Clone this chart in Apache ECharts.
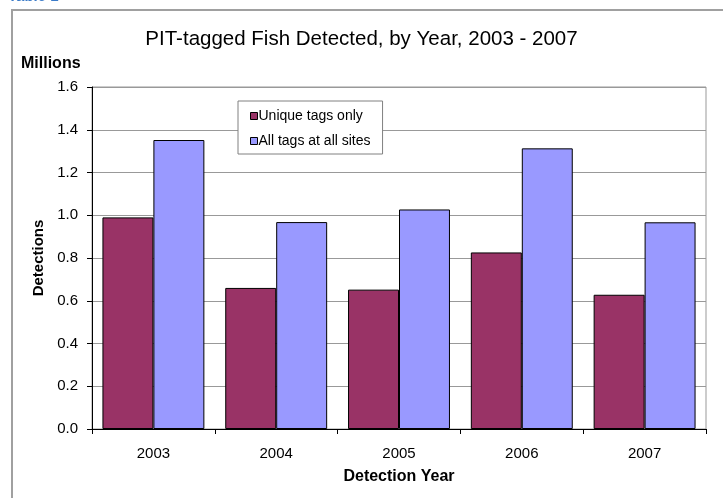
<!DOCTYPE html>
<html>
<head>
<meta charset="utf-8">
<script src="https://cdn.jsdelivr.net/npm/echarts@6/dist/echarts.min.js"></script>
<style>
html,body{margin:0;padding:0;background:#fff;}
#chart{width:723px;height:498px;}
</style>
</head>
<body>
<div id="chart"></div>
<script>
const years = ['2003', '2004', '2005', '2006', '2007'];
const uniqueTags = [0.99, 0.66, 0.652, 0.826, 0.628];
const allTags = [1.352, 0.968, 1.027, 1.313, 0.967];
const seriesNames = ['Unique tags only', 'All tags at all sites'];
const yTicks = [0.0, 0.2, 0.4, 0.6, 0.8, 1.0, 1.2, 1.4, 1.6];

const FONT = 'Arial, "Liberation Sans", sans-serif';
const chart = echarts.init(document.getElementById('chart'), null, {renderer: 'canvas'});
chart.setOption({
  backgroundColor: '#fff',
  animation: false,
  title: {
    text: 'PIT-tagged Fish Detected, by Year, 2003 - 2007',
    left: 'center',
    top: 24,
    textStyle: {fontFamily: FONT, fontSize: 20.5, fontWeight: 'normal', color: '#000'}
  },
  graphic: [
    {type: 'rect', shape: {x: 12, y: 10, width: 800, height: 600}, style: {fill: 'none', stroke: '#a0a0a0', lineWidth: 2}, z: -1},
    {type: 'text', left: 8, top: -11, style: {text: 'Table 1', font: 'bold 15px ' + FONT, fill: '#3b7bc8'}},
    {type: 'text', left: 21, top: 56, style: {text: 'Millions', font: 'bold 16px ' + FONT, fill: '#000'}}
  ],
  legend: {
    orient: 'vertical',
    left: 238,
    top: 101,
    data: seriesNames,
    icon: 'rect',
    itemWidth: 7,
    itemHeight: 7,
    itemGap: 11,
    padding: [8, 12, 6, 12],
    borderColor: '#808080',
    borderWidth: 1,
    backgroundColor: '#fff',
    textStyle: {fontFamily: FONT, fontSize: 14, color: '#000', padding: [0, 0, 0, -4]},
    itemStyle: {borderColor: '#000', borderWidth: 1}
  },
  grid: {
    left: 92, right: 17, top: 87, bottom: 69,
    show: true, borderColor: '#999', borderWidth: 1, backgroundColor: 'transparent'
  },
  xAxis: {
    type: 'category',
    data: years,
    name: 'Detection Year',
    nameLocation: 'middle',
    nameGap: 40,
    nameTextStyle: {fontFamily: FONT, fontSize: 16, fontWeight: 'bold', color: '#000'},
    axisLine: {lineStyle: {color: '#000', width: 1}},
    axisTick: {show: true, length: 5, lineStyle: {color: '#000'}},
    axisLabel: {fontFamily: FONT, fontSize: 15, color: '#000', margin: 17},
    splitLine: {show: false}
  },
  yAxis: {
    type: 'value',
    min: 0,
    max: 1.6,
    interval: 0.2,
    name: 'Detections',
    nameLocation: 'middle',
    nameGap: 46,
    nameTextStyle: {fontFamily: FONT, fontSize: 15, fontWeight: 'bold', color: '#000'},
    axisLine: {show: true, lineStyle: {color: '#000', width: 1}},
    axisTick: {show: true, length: 5, lineStyle: {color: '#000'}},
    axisLabel: {fontFamily: FONT, fontSize: 15, color: '#000', margin: 14,
      formatter: v => Number(v).toFixed(1)},
    splitLine: {show: true, lineStyle: {color: '#999', width: 1}}
  },
  series: [
    {
      name: seriesNames[0], type: 'bar', data: uniqueTags,
      barGap: '0%', barCategoryGap: '17%',
      itemStyle: {color: '#993366', borderColor: '#000', borderWidth: 1}
    },
    {
      name: seriesNames[1], type: 'bar', data: allTags,
      barGap: '0%', barCategoryGap: '17%',
      itemStyle: {color: '#9999ff', borderColor: '#000', borderWidth: 1}
    }
  ]
});
</script>
</body>
</html>
